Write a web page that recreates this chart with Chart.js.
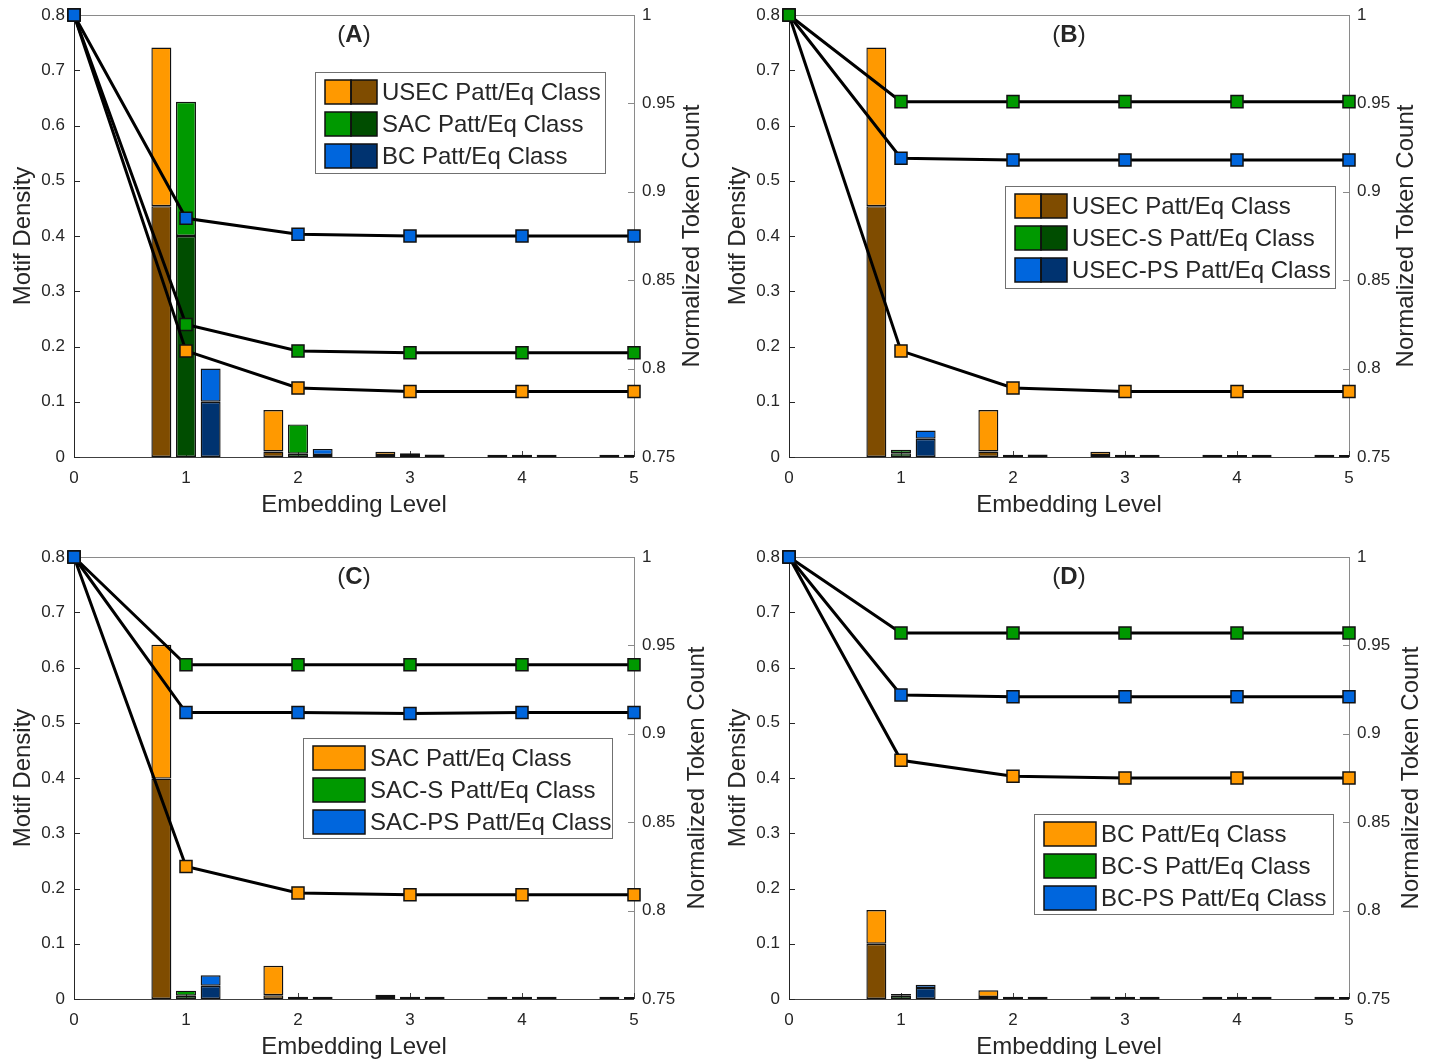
<!DOCTYPE html>
<html>
<head>
<meta charset="utf-8">
<script src="https://cdn.jsdelivr.net/npm/chart.js@4.4.1/dist/chart.umd.min.js"></script>
<style>
  body { margin: 0; background: #fff; overflow: hidden; width: 1434px; height: 1063px; position: relative; }
  .panel { position: absolute; width: 717px; height: 521px; }
</style>
</head>
<body>
<div class="panel" style="left:0;top:0"><canvas id="chartA" width="717" height="521"></canvas></div>
<div class="panel" style="left:715px;top:0"><canvas id="chartB" width="717" height="521"></canvas></div>
<div class="panel" style="left:0;top:542px"><canvas id="chartC" width="717" height="521"></canvas></div>
<div class="panel" style="left:715px;top:542px"><canvas id="chartD" width="717" height="521"></canvas></div>
<script>
// Embedding levels (x axis)
const levels = ['0', '1', '2', '3', '4', '5'];
const densityTicks = [0, 0.1, 0.2, 0.3, 0.4, 0.5, 0.6, 0.7, 0.8];
const tokenTicks = [0.75, 0.8, 0.85, 0.9, 0.95, 1];

// (A) USEC / SAC / BC
const labelsA = ['USEC Patt/Eq Class', 'SAC Patt/Eq Class', 'BC Patt/Eq Class'];
const usecTotal = [null, 0.741, 0.085, 0.008, 0.001, 0.001];
const usecLow   = [null, 0.454, 0.010, 0.002, 0.0005, 0.0005];
const sacTotal  = [null, 0.643, 0.059, 0.005, 0.001, 0.001];
const sacLow    = [null, 0.400, 0.006, 0.002, 0.0005, 0.0005];
const bcTotal   = [null, 0.160, 0.014, 0.002, 0.001, 0.001];
const bcLow     = [null, 0.100, 0.003, 0.001, 0.0005, 0.0005];
const usecToken = [1, 0.810, 0.789, 0.787, 0.787, 0.787];
const sacToken  = [1, 0.825, 0.810, 0.809, 0.809, 0.809];
const bcToken   = [1, 0.885, 0.876, 0.875, 0.875, 0.875];

// (B) USEC variants
const labelsB = ['USEC Patt/Eq Class', 'USEC-S Patt/Eq Class', 'USEC-PS Patt/Eq Class'];
const usecSTotal  = [null, 0.013, 0.001, 0.001, 0.0005, 0.0005];
const usecSLow    = [null, 0.007, 0.0005, 0.0005, 0.0003, 0.0003];
const usecPSTotal = [null, 0.048, 0.002, 0.001, 0.001, 0.0005];
const usecPSLow   = [null, 0.033, 0.001, 0.0005, 0.0005, 0.0003];
const usecSToken  = [1, 0.951, 0.951, 0.951, 0.951, 0.951];
const usecPSToken = [1, 0.919, 0.918, 0.918, 0.918, 0.918];

// (C) SAC variants
const labelsC = ['SAC Patt/Eq Class', 'SAC-S Patt/Eq Class', 'SAC-PS Patt/Eq Class'];
const sacCTotal  = [null, 0.641, 0.060, 0.006, 0.001, 0.001];
const sacCLow    = [null, 0.399, 0.007, 0.002, 0.0005, 0.0005];
const sacSTotal  = [null, 0.015, 0.001, 0.001, 0.001, 0.0005];
const sacSLow    = [null, 0.006, 0.0005, 0.0005, 0.0005, 0.0003];
const sacPSTotal = [null, 0.043, 0.001, 0.001, 0.001, 0.0005];
const sacPSLow   = [null, 0.024, 0.0005, 0.0005, 0.0005, 0.0003];
const sacSToken  = [1, 0.939, 0.939, 0.939, 0.939, 0.939];
const sacPSToken = [1, 0.912, 0.912, 0.9115, 0.912, 0.912];

// (D) BC variants
const labelsD = ['BC Patt/Eq Class', 'BC-S Patt/Eq Class', 'BC-PS Patt/Eq Class'];
const bcDTotal  = [null, 0.161, 0.015, 0.002, 0.001, 0.001];
const bcDLow    = [null, 0.100, 0.003, 0.001, 0.0005, 0.0005];
const bcSTotal  = [null, 0.009, 0.001, 0.001, 0.001, 0.0005];
const bcSLow    = [null, 0.006, 0.0005, 0.0005, 0.0005, 0.0003];
const bcPSTotal = [null, 0.026, 0.001, 0.001, 0.001, 0.0005];
const bcPSLow   = [null, 0.020, 0.0005, 0.0005, 0.0005, 0.0003];
const bcSToken  = [1, 0.957, 0.957, 0.957, 0.957, 0.957];
const bcPSToken = [1, 0.922, 0.921, 0.921, 0.921, 0.921];

const lightColors = ['#ff9900', '#009900', '#0066dd'];
const darkColors = ['#7f4c00', '#004d00', '#003370'];
const textColor = '#262626';
const fontFamily = '"Liberation Sans", Arial, Helvetica, sans-serif';

Chart.defaults.font.family = fontFamily;
Chart.defaults.color = textColor;

function fmt(v) {
    return String(+v.toFixed(2));
}

// frame, inward ticks, panel letter, right axis title and the legend
const panelDecor = {
    id: 'panelDecor',
    beforeDatasetsDraw(chart, args, opts) {
        const ctx = chart.ctx;
        const a = chart.chartArea;
        const xs = chart.scales.x, ys = chart.scales.y, ys2 = chart.scales.y2;
        const tl = 6;
        ctx.save();
        ctx.lineWidth = 1;
        // top + right (gray)
        ctx.strokeStyle = '#8a8a8a';
        ctx.beginPath();
        ctx.moveTo(a.left, a.top + 0.5); ctx.lineTo(a.right, a.top + 0.5);
        ctx.moveTo(a.right + 0.5, a.top); ctx.lineTo(a.right + 0.5, a.bottom);
        ys2.ticks.forEach((t, i) => {
            const y = Math.round(ys2.getPixelForTick(i)) + 0.5;
            ctx.moveTo(a.right, y); ctx.lineTo(a.right - tl, y);
        });
        ctx.stroke();
        // bottom
        ctx.strokeStyle = '#404040';
        ctx.beginPath();
        ctx.moveTo(a.left, a.bottom + 0.5); ctx.lineTo(a.right, a.bottom + 0.5);
        xs.ticks.forEach((t, i) => {
            const x = Math.round(xs.getPixelForTick(i)) + 0.5;
            ctx.moveTo(x, a.bottom); ctx.lineTo(x, a.bottom - tl);
        });
        ctx.stroke();
        // left
        ctx.strokeStyle = '#262626';
        ctx.beginPath();
        ctx.moveTo(a.left + 0.5, a.top); ctx.lineTo(a.left + 0.5, a.bottom);
        ys.ticks.forEach((t, i) => {
            const y = Math.round(ys.getPixelForTick(i)) + 0.5;
            ctx.moveTo(a.left, y); ctx.lineTo(a.left + tl, y);
        });
        ctx.stroke();

        // right axis title, reading bottom to top
        ctx.fillStyle = textColor;
        ctx.font = '24px ' + fontFamily;
        ctx.textAlign = 'center';
        ctx.textBaseline = 'middle';
        ctx.translate(a.right + opts.rightTitleOffset, (a.top + a.bottom) / 2);
        ctx.rotate(-Math.PI / 2);
        ctx.fillText('Normalized Token Count', 0, 0);
        ctx.restore();
    },
    afterDatasetsDraw(chart, args, opts) {
        const ctx = chart.ctx;
        const a = chart.chartArea;
        ctx.save();
        // panel letter "(A)" with bold letter
        const fs = 24;
        const normal = fs + 'px ' + fontFamily;
        const bold = 'bold ' + fs + 'px ' + fontFamily;
        ctx.font = normal;
        const wp = ctx.measureText('(').width, wq = ctx.measureText(')').width;
        ctx.font = bold;
        const wl = ctx.measureText(opts.letter).width;
        let x = (a.left + a.right) / 2 - (wp + wl + wq) / 2;
        const ty = a.top + 20;
        ctx.fillStyle = textColor;
        ctx.textBaseline = 'middle';
        ctx.textAlign = 'left';
        ctx.font = normal; ctx.fillText('(', x, ty); x += wp;
        ctx.font = bold; ctx.fillText(opts.letter, x, ty); x += wl;
        ctx.font = normal; ctx.fillText(')', x, ty);

        // legend box
        const L = opts.legend;
        const bx = a.left + L.x, by = a.top + L.y;
        ctx.fillStyle = '#fff';
        ctx.fillRect(bx, by, L.w, L.h);
        ctx.strokeStyle = '#707070';
        ctx.lineWidth = 1;
        ctx.strokeRect(bx + 0.5, by + 0.5, L.w, L.h);
        ctx.font = fs + 'px ' + fontFamily;
        opts.labels.forEach((lab, i) => {
            const cy = by + 20 + i * 32;
            const sx = bx + 10, sy = cy - 12, sh = 24;
            ctx.lineWidth = 1.5;
            ctx.strokeStyle = '#111';
            if (L.pair) {
                ctx.fillStyle = lightColors[i];
                ctx.fillRect(sx, sy, 26, sh);
                ctx.fillStyle = darkColors[i];
                ctx.fillRect(sx + 26, sy, 26, sh);
                ctx.strokeRect(sx, sy, 26, sh);
                ctx.strokeRect(sx + 26, sy, 26, sh);
            } else {
                ctx.fillStyle = lightColors[i];
                ctx.fillRect(sx, sy, 52, sh);
                ctx.strokeRect(sx, sy, 52, sh);
            }
            ctx.fillStyle = textColor;
            ctx.fillText(lab, bx + 67, cy + 1);
        });
        ctx.restore();
    }
};
Chart.register(panelDecor);

function buildPanel(canvasId, cfg) {
    const datasets = [];
    // the first dataset is drawn on top, so the chosen line goes first
    const lineOrder = [cfg.topLine].concat([0, 1, 2].filter(i => i !== cfg.topLine));
    lineOrder.forEach(i => {
        datasets.push({
            type: 'line',
            label: cfg.labels[i],
            yAxisID: 'y2',
            data: cfg.tokens[i],
            borderColor: '#000',
            borderWidth: 3,
            tension: 0,
            pointStyle: 'rect',
            pointRadius: 8.5,
            pointBackgroundColor: lightColors[i],
            pointBorderColor: '#111',
            pointBorderWidth: 1.5,
            clip: false
        });
    });
    cfg.totals.forEach((tot, i) => {
        const low = cfg.lows[i];
        const barCommon = {
            type: 'bar',
            yAxisID: 'y',
            stack: 's' + i,
            borderColor: '#111',
            borderWidth: 1.4,
            borderSkipped: false,
            categoryPercentage: 0.66,
            barPercentage: 0.81,
            clip: 0
        };
        datasets.push(Object.assign({}, barCommon, {
            label: cfg.labels[i] + ' (lower)',
            data: low,
            minBarLength: 2,
            backgroundColor: darkColors[i]
        }));
        datasets.push(Object.assign({}, barCommon, {
            label: cfg.labels[i],
            data: tot.map((t, k) => t == null ? null : t - low[k]),
            backgroundColor: lightColors[i]
        }));
    });

    new Chart(document.getElementById(canvasId), {
        type: 'bar',
        data: { labels: levels, datasets: datasets },
        options: {
            responsive: false,
            animation: false,
            layout: { padding: { top: 15, left: 0, right: 0, bottom: 0 } },
            plugins: {
                legend: { display: false },
                tooltip: { enabled: false },
                panelDecor: { letter: cfg.letter, labels: cfg.labels, legend: cfg.legend, rightTitleOffset: cfg.rightTitleOffset }
            },
            scales: {
                x: {
                    type: 'category',
                    offset: false,
                    grid: { display: false, drawTicks: false },
                    border: { display: false },
                    ticks: { font: { size: 17 }, color: textColor, padding: 11, maxRotation: 0 },
                    title: { display: true, text: 'Embedding Level', font: { size: 24 }, color: textColor, padding: { top: 0, bottom: 1 } },
                    afterFit: s => { s.height = 64; s.paddingLeft = 0; s.paddingRight = 0; }
                },
                y: {
                    position: 'left',
                    stacked: true,
                    min: 0,
                    max: 0.8,
                    afterBuildTicks: s => { s.ticks = densityTicks.map(v => ({ value: v })); },
                    ticks: { font: { size: 17 }, color: textColor, padding: 9, callback: v => fmt(v) },
                    grid: { display: false, drawTicks: false },
                    border: { display: false },
                    title: { display: true, text: 'Motif Density', font: { size: 24 }, color: textColor, padding: { top: 9 } },
                    afterFit: s => { s.width = 74; s.paddingTop = 0; s.paddingBottom = 0; }
                },
                y2: {
                    position: 'right',
                    stacked: false,
                    min: 0.75,
                    max: 1,
                    afterBuildTicks: s => { s.ticks = tokenTicks.map(v => ({ value: v })); },
                    ticks: { font: { size: 17 }, color: textColor, padding: 8, callback: v => fmt(v) },
                    grid: { display: false, drawTicks: false },
                    border: { display: false },
                    title: { display: false },
                    afterFit: s => { s.width = 83; s.paddingTop = 0; s.paddingBottom = 0; }
                }
            }
        }
    });
}

buildPanel('chartA', {
    letter: 'A', labels: labelsA, rightTitleOffset: 58, topLine: 2,
    totals: [usecTotal, sacTotal, bcTotal],
    lows: [usecLow, sacLow, bcLow],
    tokens: [usecToken, sacToken, bcToken],
    legend: { x: 241, y: 57, w: 290, h: 101, pair: true }
});
buildPanel('chartB', {
    letter: 'B', labels: labelsB, rightTitleOffset: 57, topLine: 1,
    totals: [usecTotal, usecSTotal, usecPSTotal],
    lows: [usecLow, usecSLow, usecPSLow],
    tokens: [usecToken, usecSToken, usecPSToken],
    legend: { x: 216, y: 171, w: 330, h: 102, pair: true }
});
buildPanel('chartC', {
    letter: 'C', labels: labelsC, rightTitleOffset: 63, topLine: 2,
    totals: [sacCTotal, sacSTotal, sacPSTotal],
    lows: [sacCLow, sacSLow, sacPSLow],
    tokens: [sacToken, sacSToken, sacPSToken],
    legend: { x: 229, y: 181, w: 309, h: 100, pair: false }
});
buildPanel('chartD', {
    letter: 'D', labels: labelsD, rightTitleOffset: 62, topLine: 2,
    totals: [bcDTotal, bcSTotal, bcPSTotal],
    lows: [bcDLow, bcSLow, bcPSLow],
    tokens: [bcToken, bcSToken, bcPSToken],
    legend: { x: 245, y: 257, w: 299, h: 100, pair: false }
});
</script>
</body>
</html>
